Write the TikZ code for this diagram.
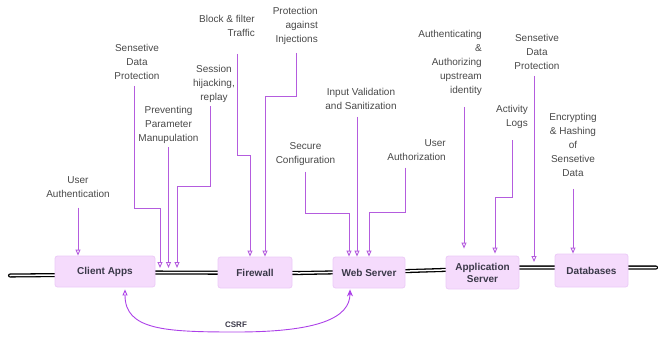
\documentclass[tikz,border=0pt]{standalone}
\usepackage{fontspec}
\setmainfont{Liberation Sans}
\usetikzlibrary{arrows.meta}
\definecolor{arrc}{RGB}{180,92,222}
\definecolor{csrfc}{RGB}{172,64,232}
\definecolor{boxfill}{RGB}{245,219,252}
\definecolor{boxline}{RGB}{236,202,247}
\definecolor{boxtext}{RGB}{58,56,72}
\definecolor{labtext}{RGB}{72,72,72}
\tikzset{
  stagebox/.style={draw=boxline, fill=boxfill, rounded corners=2.5pt, line width=0.8pt,
    font=\bfseries\fontsize{10}{12}\selectfont, text=boxtext, align=center, inner sep=1pt},
  lab/.style={font=\fontsize{10}{14}\selectfont, text=labtext, inner sep=0pt},
  labc/.style={lab, align=center},
  labr/.style={lab, align=right},
  arr/.style={draw=arrc, line width=0.9pt, -{Triangle[open, length=6pt, width=5pt]}},
  rail/.style={draw=black, line width=1.3pt, double=white, double distance=1.5pt, line cap=round, line join=round},
}
\begin{document}
\begin{tikzpicture}[x=1pt,y=-1pt]
\useasboundingbox (0,0) rectangle (658,338);

% rail
\draw[rail] (10,275.5) -- (60,275) -- (150,272.5) -- (300,273) -- (410,271) -- (520,267.5) -- (656,267.5);

% stage boxes
\node[stagebox, minimum width=100pt, minimum height=31pt] (ca) at (105,271.5) {Client Apps};
\node[stagebox, minimum width=74pt, minimum height=31pt] (fw) at (255,272.5) {Firewall};
\node[stagebox, minimum width=72pt, minimum height=31pt] (ws) at (369,272.5) {Web Server};
\node[stagebox, minimum width=73pt, minimum height=33pt] (as) at (482.5,272.5) {Application\\Server};
\node[stagebox, minimum width=73pt, minimum height=33pt] (db) at (591.5,270.5) {Databases};

% rail points
\coordinate (r1) at (160,268);
\coordinate (r2) at (168.5,268);
\coordinate (r3) at (177,268);
\coordinate (r4) at (534,262);

% labels
\node[labc] (ua) at (78,187) {User\\Authentication};
\node[labc] (sdp1) at (137,62) {Sensetive\\Data\\Protection};
\node[labc] (ppm) at (168.5,124.5) {Preventing\\Parameter\\Manupulation};
\node[labc] (shr) at (214,83.5) {Session\\hijacking,\\replay};
\node[labr, anchor=east] (bft) at (255,26) {Block \& filter\\Traffic};
\node[labr, anchor=east] (pai) at (318,26) {Protection\\against\\Injections};
\node[labc] (sc) at (305.5,154) {Secure\\Configuration};
\node[labc] (ivs) at (361,99) {Input Validation\\and Sanitization};
\node[labr, anchor=east] (uaz) at (446,150) {User\\Authorization};
\node[labr, anchor=east] (aau) at (482,63) {Authenticating\\\&\\Authorizing\\upstream\\identity};
\node[labr, anchor=east] (al) at (528,116.5) {Activity\\Logs};
\node[labc] (sdp2) at (537,52) {Sensetive\\Data\\Protection};
\node[labc] (ehs) at (573,145) {Encrypting\\\& Hashing\\of\\Sensetive\\Data};

% connectors
\draw[arr, shorten <=10pt] (ua.south) -- (ua.south |- ca.north);
\draw[arr, shorten <=6pt] ([xshift=-3pt]sdp1.south) |- (160,208) -- (r1);
\draw[arr, shorten <=4pt] (ppm.south) -- (r2);
\draw[arr, shorten <=4pt] ([xshift=-4pt]shr.south) |- (177,186) -- (r3);
\draw[arr, shorten <=17pt] ([xshift=-18pt]bft.south east) |- (250,155) -- ([xshift=-5pt]fw.north);
\draw[arr, shorten <=8pt] ([xshift=-22pt]pai.south east) |- (265,96) -- ([xshift=10pt]fw.north);
\draw[arr, shorten <=6pt] (sc.south) |- (349,213) -- ([xshift=-20pt]ws.north);
\draw[arr, shorten <=7pt] ([xshift=-4pt]ivs.south) -- ([xshift=-12pt]ws.north);
\draw[arr, shorten <=7pt] ([xshift=-41pt]uaz.south east) |- (369,212) -- (ws.north);
\draw[arr, shorten <=11pt, shorten >=7pt] ([xshift=-18pt]aau.south east) -- ([xshift=-18.5pt]as.north);
\draw[arr, shorten <=12pt, shorten >=2pt] ([xshift=-16pt]al.south east) |- (495,197) -- ([xshift=12.5pt]as.north);
\draw[arr, shorten <=6pt] ([xshift=-3pt]sdp2.south) -- (r4);
\draw[arr, shorten <=12pt] (ehs.south) -- ([xshift=-18.5pt]db.north);

% CSRF
\draw[draw=csrfc, line width=0.9pt, {Triangle[open, length=6pt, width=5pt]}-{Stealth[length=7pt, width=6pt]}, shorten <=2pt, shorten >=1pt]
  ([xshift=20pt]ca.south) .. controls (125,330) and (165,332) .. (236,332)
  node[above=1pt, font=\bfseries\fontsize{8}{10}\selectfont, text=boxtext] (csrf) {CSRF}
  .. controls (318,332) and (350,318) .. ([xshift=-19pt]ws.south);
\end{tikzpicture}
\end{document}
